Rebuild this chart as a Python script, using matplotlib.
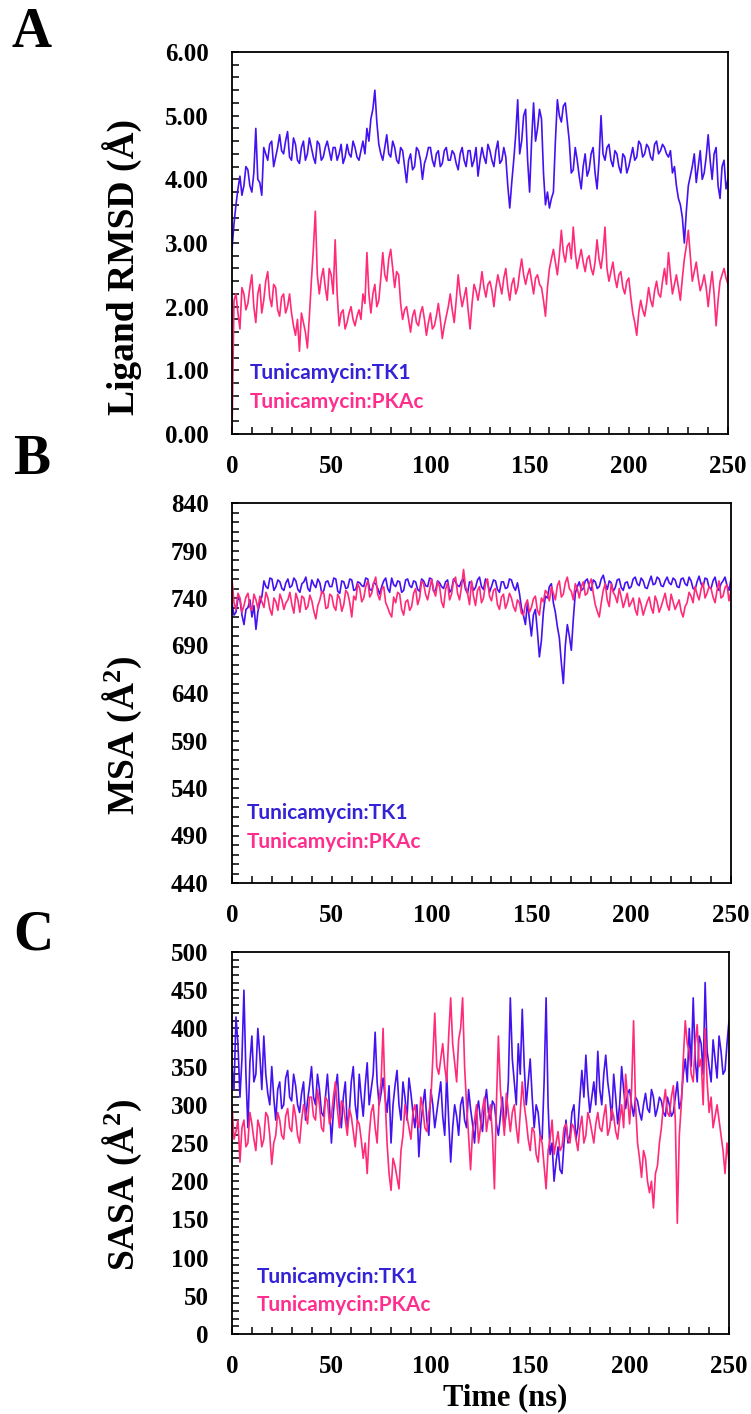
import numpy as np
import matplotlib
matplotlib.use("Agg")
import matplotlib.pyplot as plt
from matplotlib.ticker import MultipleLocator, FixedLocator, FormatStrFormatter

# ---------- DATA (one value per ns, 0..250) ----------
# A: ligand RMSD (Å)
rmsd_tk1 = [2.9, 3.3, 3.6, 3.85, 4.05, 3.75, 3.9, 4.2, 4.15, 3.9,
            3.8, 4.1, 4.8, 4.0, 3.95, 3.75, 4.5, 4.4, 4.3, 4.55,
            4.6, 4.2, 4.35, 4.5, 4.7, 4.45, 4.4, 4.6, 4.75, 4.35,
            4.3, 4.65, 4.55, 4.3, 4.25, 4.5, 4.6, 4.3, 4.4, 4.65,
            4.5, 4.35, 4.25, 4.6, 4.55, 4.3, 4.35, 4.5, 4.6, 4.45,
            4.3, 4.5, 4.5, 4.3, 4.4, 4.55, 4.25, 4.35, 4.55, 4.4,
            4.35, 4.6, 4.5, 4.35, 4.3, 4.45, 4.6, 4.4, 4.8, 4.6,
            4.95, 5.1, 5.4, 4.9, 4.55, 4.4, 4.3, 4.5, 4.7, 4.4,
            4.35, 4.6, 4.5, 4.3, 4.25, 4.5, 4.45, 4.2, 3.95, 4.3,
            4.4, 4.15, 4.2, 4.5, 4.45, 4.3, 4.0, 4.25, 4.35, 4.5,
            4.5, 4.3, 4.2, 4.4, 4.45, 4.2, 4.25, 4.45, 4.5, 4.3,
            4.3, 4.45, 4.4, 4.25, 4.15, 4.4, 4.5, 4.3, 4.2, 4.45,
            4.45, 4.2, 4.3, 4.5, 4.05, 4.3, 4.5, 4.35, 4.25, 4.55,
            4.45, 4.3, 4.2, 4.45, 4.6, 4.25, 4.3, 4.5, 4.35, 3.9,
            3.55, 3.95, 4.3, 4.7, 5.25, 4.4, 4.6, 5.0, 5.1, 4.3,
            3.8, 4.6, 5.2, 4.6, 4.8, 5.1, 4.95, 4.1, 3.6, 3.8,
            3.55, 3.7, 3.8, 4.6, 5.25, 5.0, 4.9, 5.15, 5.2, 4.9,
            4.6, 4.1, 4.15, 4.5, 4.3, 4.05, 3.85, 4.2, 4.4, 4.05,
            4.15, 4.4, 4.5, 4.1, 3.85, 4.3, 5.0, 4.4, 4.3, 4.5,
            4.55, 4.3, 4.2, 4.45, 4.4, 4.2, 4.1, 4.4, 4.35, 4.1,
            4.2, 4.35, 4.5, 4.3, 4.35, 4.6, 4.55, 4.35, 4.4, 4.55,
            4.5, 4.35, 4.3, 4.55, 4.6, 4.4, 4.45, 4.55, 4.5, 4.4,
            4.35, 4.45, 4.1, 4.2, 3.9, 3.7, 3.6, 3.4, 3.0, 3.5,
            3.9, 4.05, 4.2, 4.4, 3.95, 4.2, 4.45, 4.0, 4.1, 4.35,
            4.7, 4.3, 4.0, 4.4, 4.5, 3.9, 3.7, 4.2, 4.3, 3.85,
            4.0]
rmsd_pkac = [0.0, 2.1, 2.2, 1.9, 1.65, 2.3, 2.2, 1.95, 2.05, 2.3,
             2.5, 2.0, 1.75, 2.2, 2.35, 1.9, 2.1, 2.4, 2.55, 2.15,
             2.0, 2.35, 2.3, 1.95, 1.85, 2.15, 2.2, 1.9, 2.0, 2.2,
             1.9, 1.7, 1.55, 1.8, 1.3, 1.9, 1.75, 1.6, 1.35, 1.85,
             2.4, 2.9, 3.5, 2.5, 2.2, 2.45, 2.6, 2.3, 2.1, 2.6,
             2.5, 2.2, 3.05, 2.2, 1.7, 1.9, 1.95, 1.65, 1.75, 1.9,
             2.0, 1.8, 1.7, 1.85, 1.95, 1.8, 2.2, 2.05, 2.85, 2.2,
             1.9, 2.2, 2.35, 2.0, 2.1, 2.45, 2.85, 2.5, 2.4, 2.75,
             2.9, 2.6, 2.3, 2.55, 2.5, 2.05, 1.8, 1.95, 2.0, 1.8,
             1.6, 1.85, 1.95, 1.75, 1.7, 1.9, 2.0, 1.8, 1.55, 1.75,
             1.9, 1.65, 1.7, 1.85, 2.05, 1.8, 1.5, 1.7, 1.85, 2.0,
             2.2, 1.95, 1.75, 2.1, 2.5, 2.2, 2.0, 2.15, 2.3, 1.95,
             1.65, 2.05, 2.35, 2.25, 2.1, 2.3, 2.55, 2.3, 2.15, 2.35,
             2.4, 2.25, 2.0, 2.3, 2.5, 2.35, 2.2, 2.45, 2.6, 2.3,
             2.1, 2.35, 2.45, 2.2, 2.3, 2.55, 2.75, 2.5, 2.35, 2.5,
             2.6, 2.4, 2.2, 2.45, 2.5, 2.35, 2.3, 2.1, 1.85, 2.3,
             2.6, 2.75, 2.9, 2.7, 2.5, 2.8, 3.2, 2.85, 2.7, 2.95,
             3.0, 2.75, 3.25, 2.85, 2.6, 2.75, 2.9, 2.7, 2.55, 2.75,
             2.8, 2.6, 2.5, 2.7, 3.05, 2.75, 2.6, 2.85, 3.25, 2.6,
             2.4, 2.55, 2.7, 2.45, 2.3, 2.5, 2.55, 2.3, 2.2, 2.4,
             2.45, 2.15, 1.9, 1.75, 1.55, 1.9, 2.1, 1.95, 1.85, 2.05,
             2.3, 2.1, 2.0, 2.25, 2.4, 2.2, 2.15, 2.4, 2.6, 2.35,
             2.85, 2.5, 2.2, 2.35, 2.5, 2.3, 2.1, 2.45, 2.75, 2.95,
             3.2, 2.8, 2.4, 2.55, 2.7, 2.45, 2.25, 2.35, 2.5, 2.3,
             2.0, 2.3, 2.55, 2.2, 1.7, 2.1, 2.4, 2.5, 2.6, 2.45,
             2.35]

# B: MSA (Å²)
msa_tk1 = [735, 722, 725, 740, 738, 722, 712, 728, 730, 738,
           720, 732, 707, 726, 735, 742, 758, 752, 750, 761,
           760, 748, 752, 759, 757, 750, 748, 756, 760, 751,
           753, 761, 758, 749, 746, 755, 757, 762, 750, 747,
           759, 754, 751, 760, 756, 745, 748, 757, 758, 752,
           752, 761, 760, 747, 745, 758, 757, 750, 751, 760,
           759, 748, 749, 757, 756, 753, 752, 761, 760, 749,
           748, 756, 755, 750, 744, 752, 758, 761, 750, 746,
           761, 754, 752, 758, 757, 746, 748, 759, 760, 753,
           751, 758, 757, 749, 747, 760, 758, 753, 752, 761,
           760, 747, 748, 758, 756, 752, 750, 757, 759, 746,
           749, 760, 757, 753, 752, 758, 760, 749, 745, 757,
           756, 748, 751, 759, 762, 752, 749, 760, 757, 746,
           752, 759, 758, 749, 746, 757, 757, 750, 751, 760,
           759, 752, 748, 756, 745, 730, 722, 712, 735, 718,
           700, 722, 728, 705, 678, 695, 725, 742, 740, 752,
           755, 735, 725, 710, 698, 672, 650, 690, 712, 700,
           685, 718, 745, 752, 757, 748, 750, 758, 760, 752,
           748, 759, 757, 750, 752, 760, 764, 755, 749, 758,
           756, 747, 751, 759, 760, 751, 748, 756, 757, 750,
           752, 760, 762, 755, 753, 761, 758, 751, 750, 757,
           763, 754, 755, 762, 760, 753, 752, 758, 762, 756,
           754, 761, 759, 752, 751, 760, 761, 755, 753, 762,
           758, 750, 749, 757, 763, 755, 752, 761, 760, 751,
           750, 758, 762, 752, 748, 755, 758, 762, 753, 748,
           760]
msa_pkac = [760, 735, 728, 745, 740, 725, 732, 741, 745, 730,
            727, 744, 738, 729, 742, 736, 730, 746, 740, 728,
            722, 740, 736, 727, 744, 738, 728, 735, 738, 746,
            733, 724, 745, 738, 725, 742, 740, 728, 731, 743,
            737, 726, 718, 732, 738, 747, 745, 729, 730, 744,
            742, 731, 727, 744, 739, 726, 733, 748, 745, 735,
            720, 742, 738, 755, 750, 736, 740, 752, 758, 741,
            745, 756, 762, 744, 738, 749, 752, 735, 730, 724,
            720, 741, 735, 746, 744, 728, 722, 736, 738, 727,
            731, 745, 750, 733, 740, 758, 755, 744, 738, 749,
            760, 748, 742, 757, 752, 736, 730, 749, 756, 738,
            744, 758, 762, 745, 738, 752, 770, 752, 745, 733,
            758, 742, 732, 748, 752, 735, 740, 755, 760, 742,
            737, 748, 750, 733, 728, 741, 744, 729, 735, 745,
            740, 731, 726, 738, 735, 724, 722, 733, 738, 725,
            730, 739, 742, 727, 722, 740, 736, 748, 745, 737,
            752, 745, 738, 753, 758, 741, 744, 756, 762, 750,
            747, 738, 755, 750, 740, 752, 757, 743, 745, 755,
            760, 745, 733, 726, 720, 735, 748, 755, 738, 731,
            755, 746, 742, 735, 750, 741, 730, 737, 745, 731,
            735, 740, 728, 722, 740, 733, 722, 729, 736, 741,
            730, 724, 742, 736, 725, 731, 738, 745, 733, 727,
            744, 736, 728, 733, 738, 726, 720, 731, 735, 746,
            742, 735, 752, 744, 738, 749, 756, 740, 745, 752,
            750, 741, 735, 748, 758, 740, 742, 751, 754, 737,
            748]

# C: SASA (Å²)
sasa_tk1 = [350, 320, 415, 380, 310, 360, 450, 340, 270, 355,
            390, 330, 340, 400, 365, 320, 390, 340, 315, 300,
            350, 310, 280, 320, 330, 295, 300, 335, 345, 310,
            305, 340, 325, 300, 290, 315, 330, 280, 305, 325,
            350, 310, 300, 340, 320, 290, 285, 310, 340, 300,
            250, 290, 320, 340, 295, 270, 310, 330, 270, 290,
            330, 350, 300, 280, 340, 310, 285, 325, 355, 300,
            320, 340, 395, 330, 300, 315, 335, 310, 290, 325,
            250, 300, 325, 345, 300, 280, 330, 310, 280, 335,
            315, 290, 270, 300, 232, 275, 300, 320, 280, 260,
            320, 300, 270, 290, 310, 330, 285, 260, 340, 280,
            225, 270, 300, 285, 260, 300, 310, 280, 270, 320,
            295, 275, 250, 290, 305, 280, 265, 300, 320, 290,
            280, 305, 300, 275, 260, 285, 310, 270, 290, 330,
            440, 360, 330, 300, 380, 340, 425, 350, 300, 330,
            360, 310, 270, 300, 290, 260, 255, 330, 440, 300,
            235, 250, 200, 225, 245, 215, 210, 250, 280, 250,
            260, 290, 300, 255, 270, 310, 345, 310, 365, 320,
            290, 310, 330, 300, 370, 320, 300, 340, 365, 330,
            310, 280, 340, 310, 275, 300, 350, 320, 295, 315,
            320, 300, 285, 310, 305, 290, 280, 300, 315, 295,
            290, 320, 310, 285, 295, 310, 305, 290, 285, 310,
            300, 285, 290, 310, 330, 295, 305, 340, 360, 330,
            400, 350, 440, 360, 330, 390, 380, 340, 460, 370,
            350, 330, 385, 360, 335, 390, 370, 340, 345, 380,
            410]
sasa_pkac = [300, 255, 265, 280, 225, 270, 280, 245, 250, 290,
             275, 255, 240, 280, 270, 245, 255, 290, 285, 260,
             222, 250, 260, 290, 280, 260, 255, 285, 295, 270,
             265, 300, 285, 260, 250, 280, 300, 290, 275, 310,
             310, 285, 280, 320, 300, 270, 265, 310, 305, 275,
             285, 310, 330, 295, 270, 305, 300, 280, 260, 295,
             285, 265, 245, 280, 275, 255, 230, 250, 210, 260,
             290, 300, 270, 250, 305, 330, 400, 310, 250, 210,
             188, 230, 220, 205, 190, 240, 260, 300, 285, 270,
             255, 290, 300, 280, 270, 310, 295, 270, 265, 290,
             305, 360, 420, 350, 340, 360, 380, 350, 330, 390,
             440, 380, 355, 330, 385, 400, 440, 350, 300, 260,
             215, 265, 280, 300, 250, 270, 295, 310, 265, 285,
             300, 260, 190, 300, 390, 320, 290, 260, 315, 290,
             265, 290, 300, 270, 250, 290, 330, 300, 280, 255,
             240, 270, 265, 235, 225, 260, 250, 220, 190, 240,
             255, 280, 235, 250, 265, 240, 245, 270, 275, 255,
             250, 275, 270, 255, 240, 270, 285, 250, 260, 290,
             280, 265, 250, 275, 290, 270, 265, 285, 300, 260,
             270, 295, 285, 265, 255, 280, 300, 270, 340, 310,
             275, 320, 410, 300, 250, 230, 205, 240, 230, 200,
             185, 200, 165, 210, 220, 250, 270, 300, 320, 290,
             285, 310, 325, 280, 145, 260, 300, 360, 410, 380,
             370, 340, 330, 380, 405, 350, 360, 300, 400, 330,
             290, 310, 270, 285, 300, 280, 260, 240, 210, 250,
             225]

panel_letters = ["A", "B", "C"]
y_labels = ["Ligand RMSD (Å)", "MSA (Å$\\mathbf{^2}$)", "SASA (Å$\\mathbf{^2}$)"]
legend_names = ["Tunicamycin:TK1", "Tunicamycin:PKAc"]

# ---------- FIGURE ----------
W, H = 751, 1414
fig = plt.figure(figsize=(W / 100, H / 100), dpi=100)
plt.rcParams["mathtext.fontset"] = "custom"
plt.rcParams["mathtext.bf"] = "Liberation Serif:bold"
plt.rcParams["mathtext.rm"] = "Liberation Serif:bold"

blue = "#4412F0"
pink = "#FF2A78"
blue_txt = "#3322D6"
pink_txt = "#FF2E8E"
serif = "Liberation Serif"


def add_px_axes(left, top, right, bottom):
    return fig.add_axes([left / W, 1 - bottom / H, (right - left) / W, (bottom - top) / H])


panels = [
    dict(box=(232, 52, 728, 434), series=(rmsd_tk1, rmsd_pkac), yticks=np.arange(0, 6.01, 1.0),
         minor=0.2, fmt="%.2f", letter=(31, 33), ylab=(122, 267), leg=(250, 373, 402)),
    dict(box=(232, 503, 731, 883), series=(msa_tk1, msa_pkac), yticks=np.arange(440, 841, 50),
         minor=10, fmt="%d", letter=(32, 460), ylab=(122, 735), leg=(247, 813, 842)),
    dict(box=(232, 952, 729, 1334), series=(sasa_tk1, sasa_pkac), yticks=np.arange(0, 501, 50),
         minor=10, fmt="%d", letter=(33, 936), ylab=(122, 1185), leg=(257, 1277, 1305)),
]

for i, p in enumerate(panels):
    ax = add_px_axes(*p["box"])
    tk1, pkac = p["series"]
    ax.plot(np.linspace(0, 250, len(tk1)), tk1, color=blue, lw=1.2)
    ax.plot(np.linspace(0, 250, len(pkac)), pkac, color=pink, lw=1.2)

    yt = p["yticks"]
    ax.set_xlim(0, 250)
    ax.set_ylim(yt[0], yt[-1])
    ax.xaxis.set_major_locator(MultipleLocator(50))
    ax.xaxis.set_minor_locator(MultipleLocator(10))
    ax.yaxis.set_major_locator(FixedLocator(yt))
    ax.yaxis.set_minor_locator(FixedLocator(np.arange(yt[0], yt[-1] + 1e-9, p["minor"])))
    ax.yaxis.set_major_formatter(FormatStrFormatter(p["fmt"]))
    ax.tick_params(which="both", direction="in", length=5, width=1.1, top=False, right=False)
    ax.tick_params(axis="x", which="major", pad=15)
    ax.tick_params(axis="y", which="major", pad=17)
    for lab in ax.get_xticklabels() + ax.get_yticklabels():
        lab.set_fontfamily(serif)
        lab.set_fontweight("bold")
        lab.set_fontsize(18)
    for s in ax.spines.values():
        s.set_linewidth(1.3)

    lx, ly = p["letter"]
    fig.text(lx / W, 1 - ly / H, panel_letters[i], family=serif, weight="bold",
             fontsize=40, ha="center", va="center")
    yx, yy = p["ylab"]
    fig.text(yx / W, 1 - yy / H, y_labels[i], family=serif, weight="bold",
             fontsize=27, rotation=90, ha="center", va="center")
    gx, g1, g2 = p["leg"]
    fig.text(gx / W, 1 - g1 / H, legend_names[0], family="Lato", weight="bold",
             fontsize=15, color=blue_txt, ha="left", va="center")
    fig.text(gx / W, 1 - g2 / H, legend_names[1], family="Lato", weight="bold",
             fontsize=15, color=pink_txt, ha="left", va="center")

fig.text(505 / W, 1 - 1398 / H, "Time (ns)", family=serif, weight="bold",
         fontsize=22, ha="center", va="center")

fig.savefig("out.png", dpi=100)
